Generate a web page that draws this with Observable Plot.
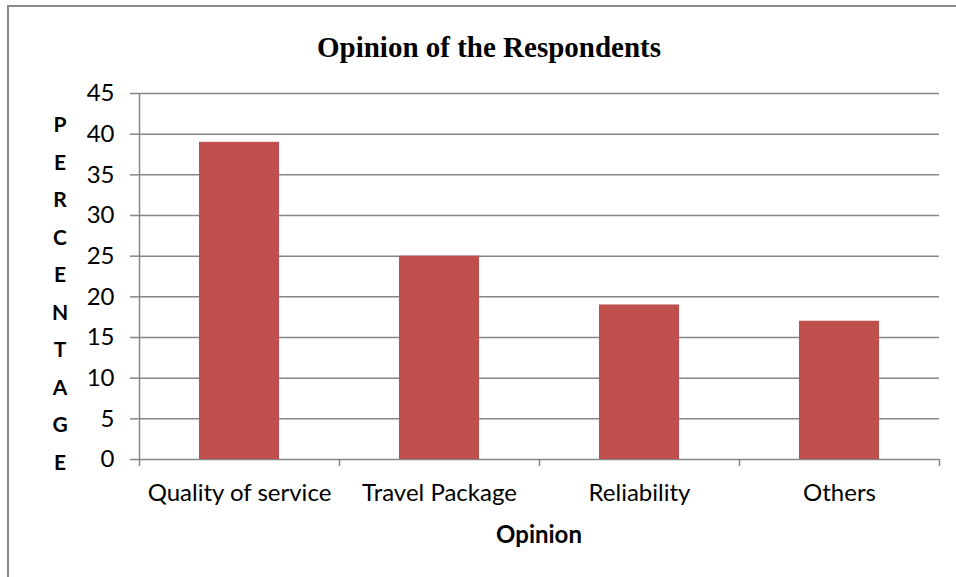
<!DOCTYPE html>
<html>
<head>
<meta charset="utf-8">
<script src="https://cdn.jsdelivr.net/npm/d3@7"></script>
<script src="https://cdn.jsdelivr.net/npm/@observablehq/plot@0.6"></script>
<style>
  html, body { margin: 0; padding: 0; background: #fff; }
  #wrap { position: relative; width: 956px; height: 577px; overflow: hidden; font-family: Lato, "Open Sans", sans-serif; }
  #frame { position: absolute; left: 7px; top: 5px; width: 1000px; height: 600px; border-left: 2px solid #8c8c8c; border-top: 2px solid #8c8c8c; }
  #title { position: absolute; left: 0; width: 978px; top: 29px; text-align: center; font-family: "Liberation Serif", "Times New Roman", serif; font-weight: bold; font-size: 29px; line-height: 36px; }
  #ylabel { position: absolute; left: 45px; width: 30px; top: 105px; text-align: center; font-weight: bold; font-size: 21px; line-height: 37.5px; white-space: pre; }
  #xlabel { position: absolute; left: 139px; width: 800px; top: 519px; text-align: center; font-weight: bold; font-size: 24px; line-height: 30px; }
  #chart { position: absolute; left: 0; top: 0; }
</style>
</head>
<body>
<div id="wrap">
  <div id="frame"></div>
  <div id="chart"></div>
  <div id="title"></div>
  <div id="ylabel"></div>
  <div id="xlabel"></div>
</div>
<script>
const titleText = "Opinion of the Respondents";
const yLabelText = "PERCENTAGE";
const xLabelText = "Opinion";
const categories = ["Quality of service", "Travel Package", "Reliability", "Others"];
const values = [39, 25, 19, 17];
const yTicks = [0, 5, 10, 15, 20, 25, 30, 35, 40, 45];

const data = categories.map((c, i) => ({category: c, index: i, value: values[i]}));
const boundaries = d3.range(categories.length + 1);
const centers = categories.map((c, i) => i + 0.5);

document.getElementById("title").textContent = titleText;
document.getElementById("ylabel").textContent = yLabelText.split("").join("\n");
document.getElementById("xlabel").textContent = xLabelText;

const gridColor = "#868686";

const chart = Plot.plot({
  width: 956,
  height: 577,
  marginLeft: 139,
  marginRight: 17,
  marginTop: 93,
  marginBottom: 118,
  style: {fontFamily: "Lato, 'Open Sans', sans-serif", fontSize: "24px", background: "transparent", color: "#000"},
  x: {domain: [0, categories.length]},
  y: {domain: [0, 45]},
  marks: [
    Plot.ruleY(yTicks, {stroke: gridColor, strokeWidth: 1.5}),
    Plot.rectY(data, {x1: d => d.index, x2: d => d.index + 1, y: "value", fill: "#C0504D", insetLeft: 60, insetRight: 60}),
    Plot.ruleX([0], {stroke: gridColor, strokeWidth: 1.5}),
    Plot.axisY({ticks: yTicks, tickSize: 9, tickPadding: 16, label: null, stroke: gridColor, strokeWidth: 1.5, fill: "#000", fontSize: 24}),
    Plot.axisX({ticks: boundaries, tickFormat: () => "", tickSize: 7, label: null, stroke: gridColor, strokeWidth: 1.5}),
    Plot.axisX({ticks: centers, tickFormat: d => categories[Math.floor(d)], tickSize: 0, tickPadding: 24, label: null, fill: "#000", fontSize: 24})
  ]
});
document.getElementById("chart").appendChild(chart);
</script>
</body>
</html>
